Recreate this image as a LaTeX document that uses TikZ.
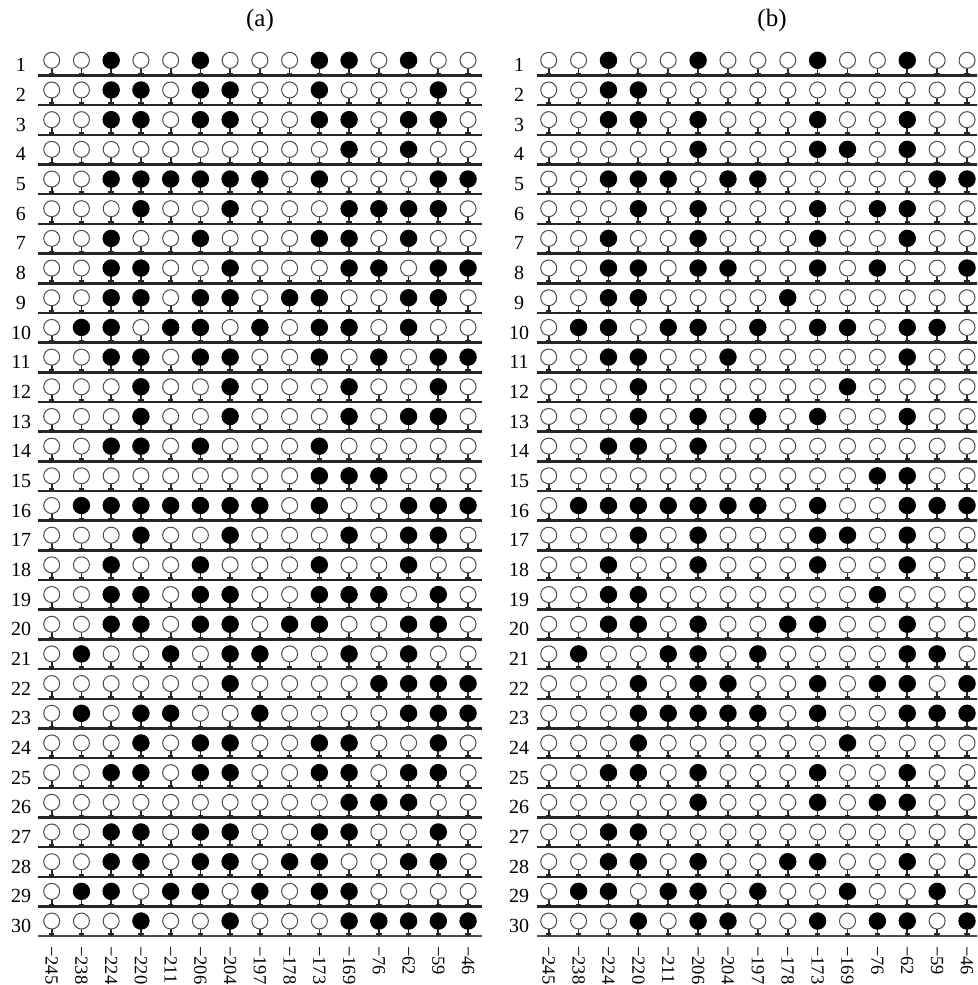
\documentclass[tikz,border=0pt]{standalone}
\usepackage{fontspec}
\setmainfont{Liberation Serif}
\begin{document}
\begin{tikzpicture}[x=1pt,y=-1pt]
\tikzset{
  lbl/.style={font=\fontsize{20}{22}\selectfont, inner sep=0pt, anchor=base},
  ttl/.style={font=\fontsize{25}{28}\selectfont, inner sep=0pt},
  axl/.style={font=\fontsize{18.5}{20}\selectfont, inner sep=0pt, rotate=-90, anchor=west},
  rowline/.style={line width=2.5pt, black!85},
  lastline/.style={line width=1.6pt, black!70},
  stemline/.style={line width=1.7pt, black!85},
  openc/.style={draw=black!70, line width=1pt, fill=white},
  fullc/.style={draw=black, line width=1pt, fill=black},
}
\useasboundingbox (0,0) rectangle (977,985);
\clip (0,0) rectangle (977,985);
\def\dataA{
{0,0,1,0,0,1,0,0,0,1,1,0,1,0,0},
{0,0,1,1,0,1,1,0,0,1,0,0,0,1,0},
{0,0,1,1,0,1,1,0,0,1,1,0,1,1,0},
{0,0,0,0,0,0,0,0,0,0,1,0,1,0,0},
{0,0,1,1,1,1,1,1,0,1,0,0,0,1,1},
{0,0,0,1,0,0,1,0,0,0,1,1,1,1,0},
{0,0,1,0,0,1,0,0,0,1,1,0,1,0,0},
{0,0,1,1,0,0,1,0,0,0,1,1,0,1,1},
{0,0,1,1,0,1,1,0,1,1,0,0,1,1,0},
{0,1,1,0,1,1,0,1,0,1,1,0,1,0,0},
{0,0,1,1,0,1,1,0,0,1,0,1,0,1,1},
{0,0,0,1,0,0,1,0,0,0,1,0,0,1,0},
{0,0,0,1,0,0,1,0,0,0,1,0,1,1,0},
{0,0,1,1,0,1,0,0,0,1,0,0,0,0,0},
{0,0,0,0,0,0,0,0,0,1,1,1,0,0,0},
{0,1,1,1,1,1,1,1,0,1,0,0,1,1,1},
{0,0,0,1,0,0,1,0,0,0,1,0,1,1,0},
{0,0,1,0,0,1,0,0,0,1,0,0,1,0,0},
{0,0,1,1,0,1,1,0,0,1,1,1,0,1,0},
{0,0,1,1,0,1,1,0,1,1,0,0,1,1,0},
{0,1,0,0,1,0,1,1,0,0,1,0,1,0,0},
{0,0,0,0,0,0,1,0,0,0,0,1,1,1,1},
{0,1,0,1,1,0,0,1,0,0,0,0,1,1,1},
{0,0,0,1,0,1,1,0,0,1,1,0,0,1,0},
{0,0,1,1,0,1,1,0,0,1,1,0,1,1,0},
{0,0,0,0,0,0,0,0,0,0,1,1,1,0,0},
{0,0,1,1,0,1,1,0,0,1,1,0,0,1,0},
{0,0,1,1,0,1,1,0,1,1,0,0,1,1,0},
{0,1,1,0,1,1,0,1,0,1,1,0,0,0,0},
{0,0,0,1,0,0,1,0,0,0,1,1,1,1,1}}
\def\dataB{
{0,0,1,0,0,1,0,0,0,1,0,0,1,0,0},
{0,0,1,1,0,0,0,0,0,0,0,0,0,0,0},
{0,0,1,1,0,1,0,0,0,1,0,0,1,0,0},
{0,0,0,0,0,1,0,0,0,1,1,0,1,0,0},
{0,0,1,1,1,0,1,1,0,0,0,0,0,1,1},
{0,0,0,1,0,1,0,0,0,1,0,1,1,0,0},
{0,0,1,0,0,1,0,0,0,1,0,0,1,0,0},
{0,0,1,1,0,1,1,0,0,1,0,1,0,0,1},
{0,0,1,1,0,0,0,0,1,0,0,0,0,0,0},
{0,1,1,0,1,1,0,1,0,1,1,0,1,1,0},
{0,0,1,1,0,0,1,0,0,0,0,0,1,0,0},
{0,0,0,1,0,0,0,0,0,0,1,0,0,0,0},
{0,0,0,1,0,1,0,1,0,1,0,0,1,0,0},
{0,0,1,1,0,1,0,0,0,0,0,0,0,0,0},
{0,0,0,0,0,0,0,0,0,0,0,1,1,0,0},
{0,1,1,1,1,1,1,1,0,1,0,0,1,1,1},
{0,0,0,1,0,1,0,0,0,1,1,0,1,0,0},
{0,0,1,0,0,1,0,0,0,1,0,0,1,0,0},
{0,0,1,1,0,0,0,0,0,0,0,1,0,0,0},
{0,0,1,1,0,1,0,0,1,1,0,0,1,0,0},
{0,1,0,0,1,1,0,1,0,0,0,0,1,1,0},
{0,0,0,1,0,1,1,0,0,1,0,1,1,0,1},
{0,0,0,1,1,1,1,1,0,1,0,0,1,1,1},
{0,0,0,1,0,0,0,0,0,0,1,0,0,0,0},
{0,0,1,1,0,1,0,0,0,1,0,0,1,0,0},
{0,0,0,0,0,1,0,0,0,1,0,1,1,0,0},
{0,0,1,1,0,0,0,0,0,0,0,0,0,0,0},
{0,0,1,1,0,1,0,0,1,1,0,0,1,0,0},
{0,1,1,0,1,1,0,1,0,0,1,0,0,1,0},
{0,0,0,1,0,1,1,0,0,1,0,1,1,0,1}}
% titles
\node[ttl] (ta) at (260,20) {(a)};
\node[ttl] (tb) at (772,20) {(b)};
% panel a
\foreach \row [count=\r] in \dataA {
  \pgfmathsetmacro\ly{75.5+(\r-1)*29.68}
  \ifnum\r<30 \draw[rowline] (38,\ly) -- (482,\ly);
  \else \draw[lastline] (38,\ly) -- (482,\ly);
  \fi
  \node[lbl] (ra\r) at (21,\ly-3.6) {\r};
  \foreach \v [count=\c] in \row {
    \pgfmathsetmacro\cx{51.7+(\c-1)*29.74}
    \draw[stemline] (\cx,\ly-8) -- (\cx,\ly);
    \draw[stemline] (\cx-2.7,\ly-2) -- (\cx+2.7,\ly-2);
    \ifnum\v=1 \filldraw[fullc] (\cx,\ly-15.2) circle (8.2);
    \else \filldraw[openc] (\cx,\ly-15.2) circle (8);
    \fi
  }
}
% panel b
\foreach \row [count=\r] in \dataB {
  \pgfmathsetmacro\ly{75.5+(\r-1)*29.68}
  \ifnum\r<30 \draw[rowline] (537,\ly) -- (990,\ly);
  \else \draw[lastline] (537,\ly) -- (990,\ly);
  \fi
  \node[lbl] (rb\r) at (519,\ly-3.6) {\r};
  \foreach \v [count=\c] in \row {
    \pgfmathsetmacro\cx{548.7+(\c-1)*29.88}
    \draw[stemline] (\cx,\ly-8) -- (\cx,\ly);
    \draw[stemline] (\cx-2.7,\ly-2) -- (\cx+2.7,\ly-2);
    \ifnum\v=1 \filldraw[fullc] (\cx,\ly-15.2) circle (8.2);
    \else \filldraw[openc] (\cx,\ly-15.2) circle (8);
    \fi
  }
}
% axis labels
\foreach \p [count=\c] in {245,238,224,220,211,206,204,197,178,173,169,76,62,59,46} {
  \node[axl] (ca\c) at ({51.7+(\c-1)*29.74},946) {−\p};
  \node[axl] (cb\c) at ({548.7+(\c-1)*29.88},946) {−\p};
}
\end{tikzpicture}
\end{document}
